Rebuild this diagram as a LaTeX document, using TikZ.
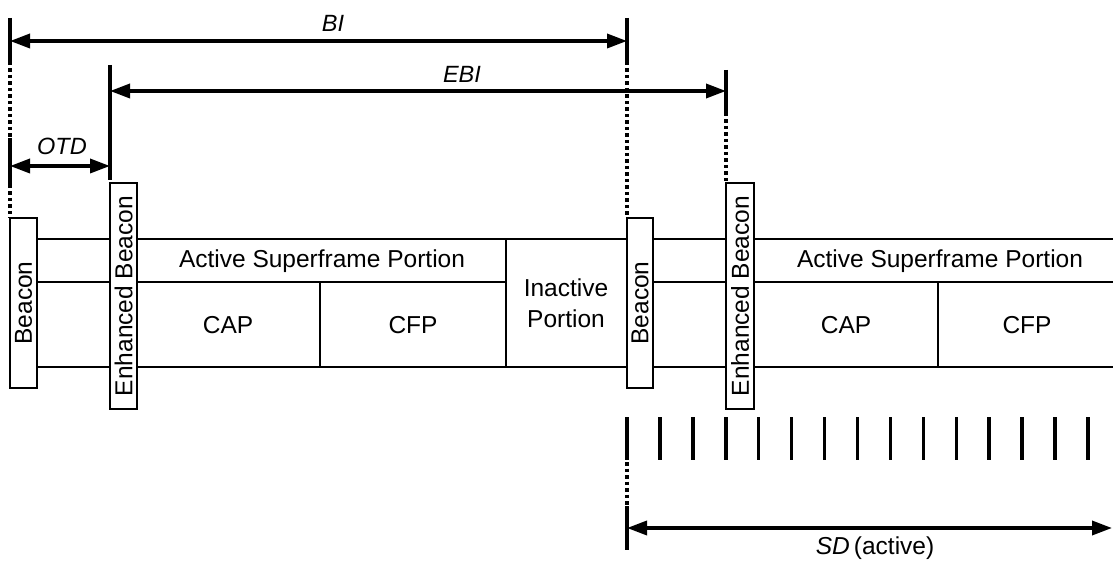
\documentclass[tikz,border=0pt]{standalone}
\usepackage{fontspec}
\setmainfont{Liberation Sans}
\usetikzlibrary{arrows.meta}
\begin{document}
\begin{tikzpicture}[x=1pt,y=-1pt,
  frame/.style={line width=2pt},
  marker/.style={line width=3.5pt},
  dotline/.style={line width=3.2pt, dash pattern=on 3.5pt off 3pt},
  dim/.style={line width=3.5pt, {Triangle[length=20pt,width=14pt]}-{Triangle[length=20pt,width=14pt]}},
  vbox/.style={draw, line width=2pt, rotate=90, inner sep=0pt, fill=white,
    font=\fontsize{24.5}{28}\selectfont},
  lbl/.style={font=\fontsize{24.5}{28}\selectfont, align=center},
  ilbl/.style={font=\fontsize{23.5}{27}\selectfont\itshape}]
\useasboundingbox (0,0) rectangle (1113,561);

% frame lines
\draw[frame] (37,239) -- (110,239) (37,282) -- (110,282) (37,367) -- (110,367);
\draw[frame] (137,239) -- (627,239) (137,282) -- (506,282) (137,367) -- (627,367);
\draw[frame] (653,239) -- (726,239) (653,282) -- (726,282) (653,367) -- (726,367);
\draw[frame] (754,239) -- (1113,239) (754,282) -- (1113,282) (754,367) -- (1113,367);
\draw[frame] (320,282) -- (320,367) (506,239) -- (506,367) (938,282) -- (938,367);

% beacon boxes
\node[vbox, minimum width=170pt, minimum height=27pt] (b1) at (23.5,303) {Beacon};
\node[vbox, minimum width=226pt, minimum height=27pt] (eb1) at (123.5,296) {Enhanced Beacon};
\node[vbox, minimum width=170pt, minimum height=26pt] (b2) at (640,303) {Beacon};
\node[vbox, minimum width=226pt, minimum height=28pt] (eb2) at (740,296) {Enhanced Beacon};

% cell labels
\node[lbl] (asp1) at (322,261) {Active Superframe Portion};
\node[lbl] (cap1) at (228,325) {CAP};
\node[lbl] (cfp1) at (413,325) {CFP};
\node[lbl, font=\fontsize{24.5}{31}\selectfont] (inact) at (566,303) {Inactive\\Portion};
\node[lbl] (asp2) at (940,261) {Active Superframe Portion};
\node[lbl] (cap2) at (846,325) {CAP};
\node[lbl] (cfp2) at (1027,325) {CFP};

% vertical markers
\draw[marker] (10,18) -- (10,62);
\draw[dotline] (10,62) -- (10,138);
\draw[marker] (10,138) -- (10,185);
\draw[dotline] (10,185) -- (10,218);
\draw[marker] (110,65) -- (110,180);
\draw[marker] (627,18) -- (627,62);
\draw[dotline] (627,62) -- (627,218);
\draw[marker] (726,70) -- (726,113);
\draw[dotline] (726,113) -- (726,183);
\draw[marker] (627,417) -- (627,460);
\draw[dotline] (627,462) -- (627,505);
\draw[marker] (627,506) -- (627,550);
\foreach \k in {1,...,14}
  \draw[marker] ({627+32.93*\k},417) -- ({627+32.93*\k},460);

% dimension arrows
\coordinate (biL) at (10,41);   \coordinate (biR) at (627,41);
\coordinate (ebiL) at (110,91); \coordinate (ebiR) at (726,91);
\coordinate (otdL) at (10,166); \coordinate (otdR) at (110,166);
\coordinate (sdL) at (627,528); \coordinate (sdR) at (1112,528);
\draw[dim] (biL) -- (biR);
\draw[dim] (ebiL) -- (ebiR);
\draw[dim] (otdL) -- (otdR);
\draw[dim] (sdL) -- (sdR);

\node[ilbl] (bi) at (333,23) {BI};
\node[ilbl] (ebi) at (462,74) {EBI};
\node[ilbl] (otd) at (62,146) {OTD};
\node[lbl] (sd) at (875,548) {\textit{SD}\,(active)};
\end{tikzpicture}
\end{document}
